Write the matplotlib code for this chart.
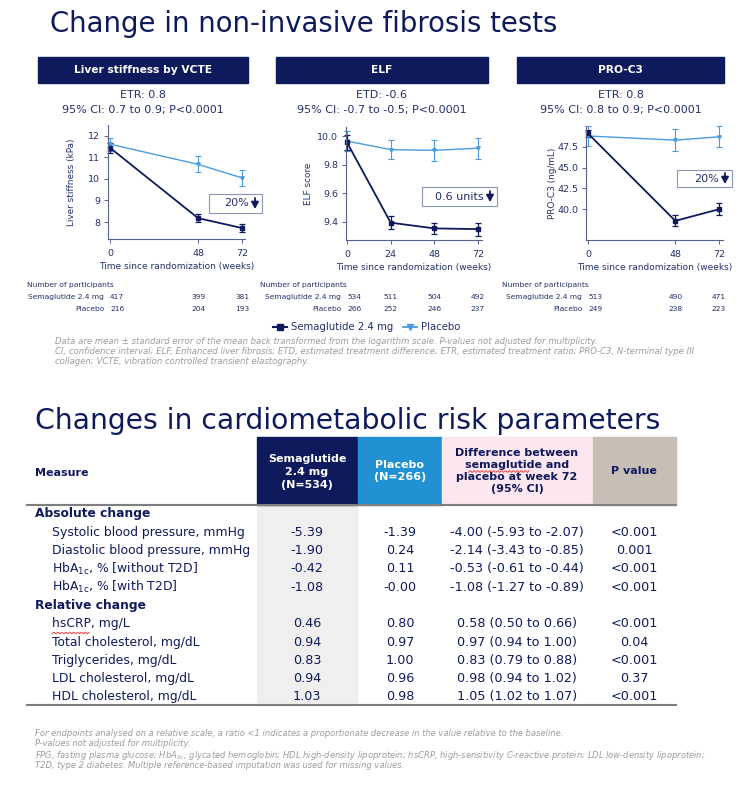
from matplotlib import pyplot as plt
from matplotlib.patches import Rectangle
from matplotlib.transforms import blended_transform_factory
import numpy as np

# ---- data ----
weeks_vcte = [0, 48, 72]
vcte_sema = [11.45, 8.18, 7.72]
vcte_sema_se = [0.23, 0.17, 0.19]
vcte_pbo = [11.62, 10.68, 10.05]
vcte_pbo_se = [0.30, 0.37, 0.36]
n_vcte_sema = [417, 399, 381]
n_vcte_pbo = [216, 204, 193]

weeks_elf = [0, 24, 48, 72]
elf_sema = [9.955, 9.395, 9.355, 9.35]
elf_sema_se = [0.05, 0.045, 0.04, 0.045]
elf_pbo = [9.965, 9.905, 9.90, 9.915]
elf_pbo_se = [0.07, 0.068, 0.075, 0.072]
n_elf_sema = [534, 511, 504, 492]
n_elf_pbo = [266, 252, 246, 237]

weeks_pro = [0, 48, 72]
pro_sema = [49.1, 38.6, 40.0]
pro_sema_se = [0.45, 0.65, 0.7]
pro_pbo = [48.8, 48.3, 48.7]
pro_pbo_se = [1.2, 1.3, 1.25]
n_pro_sema = [513, 490, 471]
n_pro_pbo = [249, 238, 223]

abs_labels = ["Systolic blood pressure, mmHg", "Diastolic blood pressure, mmHg",
              r"HbA$_{\mathregular{1c}}$, % [without T2D]", r"HbA$_{\mathregular{1c}}$, % [with T2D]"]
abs_sema = [-5.39, -1.90, -0.42, -1.08]
abs_pbo = [-1.39, 0.24, 0.11, -0.00]
abs_diff = [(-4.00, -5.93, -2.07), (-2.14, -3.43, -0.85), (-0.53, -0.61, -0.44), (-1.08, -1.27, -0.89)]
abs_p = ["<0.001", "0.001", "<0.001", "<0.001"]

rel_labels = ["hsCRP, mg/L", "Total cholesterol, mg/dL", "Triglycerides, mg/dL",
              "LDL cholesterol, mg/dL", "HDL cholesterol, mg/dL"]
rel_sema = [0.46, 0.94, 0.83, 0.94, 1.03]
rel_pbo = [0.80, 0.97, 1.00, 0.96, 0.98]
rel_diff = [(0.58, 0.50, 0.66), (0.97, 0.94, 1.00), (0.83, 0.79, 0.88), (0.98, 0.94, 1.02), (1.05, 1.02, 1.07)]
rel_p = ["<0.001", "0.04", "<0.001", "0.37", "<0.001"]

W, H = 746, 786
NAVY = "#0f1a5c"
TXT = "#23306a"
BLUE = "#4a9de0"
GREY = "#9c9c9c"

fig = plt.figure(figsize=(W / 100, H / 100), dpi=100)


def px_box(x0, y0, x1, y1):
    # pixel box (top-left origin) -> figure fraction
    return [x0 / W, 1 - y1 / H, (x1 - x0) / W, (y1 - y0) / H]


# overlay axes in pixel coordinates for all the slide furniture
ov = fig.add_axes([0, 0, 1, 1], zorder=10)
ov.set_xlim(0, W)
ov.set_ylim(H, 0)
ov.axis('off')


def squiggle(x0, x1, y):
    xs = np.linspace(x0, x1, int((x1 - x0) * 2))
    ov.plot(xs, y + 0.8 * np.sin(xs * 1.6), color="#e03030", lw=0.6)


ov.text(50, 24, "Change in non-invasive fibrosis tests", fontsize=19.8, color=NAVY, va='center')

panels = [
    dict(title="Liver stiffness by VCTE", s1="ETR: 0.8", s2="95% CI: 0.7 to 0.9; P<0.0001",
         hdr=(38, 248), ax=(108, 125, 245, 239), xlim=(-1.1, 73.6), ylim=(7.21, 12.51),
         weeks=weeks_vcte, sema=vcte_sema, sema_se=vcte_sema_se, pbo=vcte_pbo, pbo_se=vcte_pbo_se,
         yticks=[8, 9, 10, 11, 12], ytl=["8", "9", "10", "11", "12"], ylabel="Liver stiffness (kPa)",
         ylx=-0.23, nsema=n_vcte_sema, npbo=n_vcte_pbo, ntx=27,
         badge=(209, 194, 262, 213, "20%")),
    dict(title="ELF", s1="ETD: -0.6", s2="95% CI: -0.7 to -0.5; P<0.0001",
         hdr=(276, 488), ax=(346, 127, 482, 240), xlim=(-0.55, 74.2), ylim=(9.274, 10.063),
         weeks=weeks_elf, sema=elf_sema, sema_se=elf_sema_se, pbo=elf_pbo, pbo_se=elf_pbo_se,
         yticks=[9.4, 9.6, 9.8, 10.0], ytl=["9.4", "9.6", "9.8", "10.0"], ylabel="ELF score",
         ylx=-0.24, nsema=n_elf_sema, npbo=n_elf_pbo, ntx=260,
         badge=(422, 187, 497, 206, "0.6 units")),
    dict(title="PRO-C3", s1="ETR: 0.8", s2="95% CI: 0.8 to 0.9; P<0.0001",
         hdr=(517, 724), ax=(586, 126, 723, 240), xlim=(-1.1, 74.2), ylim=(36.3, 50.0),
         weeks=weeks_pro, sema=pro_sema, sema_se=pro_sema_se, pbo=pro_pbo, pbo_se=pro_pbo_se,
         yticks=[40, 42.5, 45, 47.5], ytl=["40.0", "42.5", "45.0", "47.5"], ylabel="PRO-C3 (ng/mL)",
         ylx=-0.21, nsema=n_pro_sema, npbo=n_pro_pbo, ntx=502,
         badge=(677, 170, 732, 187, "20%")),
]

NFS = 5.4
for p in panels:
    hx0, hx1 = p["hdr"]
    cx = (hx0 + hx1) / 2
    ov.add_patch(Rectangle((hx0, 57), hx1 - hx0, 26, color=NAVY))
    ov.text(cx, 70, p["title"], color="white", fontsize=7.7, fontweight='bold', ha='center', va='center')
    ov.text(cx, 95, p["s1"], color=TXT, fontsize=8, ha='center', va='center')
    ov.text(cx, 110, p["s2"], color=TXT, fontsize=8, ha='center', va='center')

    x0, y0, x1, y1 = p["ax"]
    ax = fig.add_axes(px_box(x0, y0, x1, y1))
    ax.errorbar(p["weeks"], p["pbo"], yerr=p["pbo_se"], color=BLUE, lw=1, marker='v', ms=2.5,
                capsize=2, elinewidth=0.8, capthick=0.8, clip_on=False)
    ax.errorbar(p["weeks"], p["sema"], yerr=p["sema_se"], color=NAVY, lw=1.3, marker='s', ms=2.5,
                capsize=2, elinewidth=0.9, capthick=0.9, clip_on=False)
    ax.set_xlim(*p["xlim"])
    ax.set_ylim(*p["ylim"])
    ax.set_xticks(p["weeks"])
    ax.set_yticks(p["yticks"])
    ax.set_yticklabels(p["ytl"])
    for s in ["top", "right"]:
        ax.spines[s].set_visible(False)
    for s in ["left", "bottom"]:
        ax.spines[s].set_color("#56628f")
        ax.spines[s].set_linewidth(0.8)
    ax.tick_params(axis='both', length=3, width=0.7, color="#56628f", labelsize=6.8, labelcolor=TXT)
    ax.tick_params(axis='x', pad=4)
    ax.tick_params(axis='y', pad=2.5)
    ax.patch.set_alpha(0)
    ax.set_ylabel(p["ylabel"], fontsize=6.4, color=TXT)
    ax.yaxis.set_label_coords(p["ylx"], 0.5)
    ax.set_xlabel("Time since randomization (weeks)", fontsize=6.5, color=TXT)
    ax.xaxis.set_label_coords(0.5, -0.2)

    # number of participants under each week
    tr = blended_transform_factory(ax.transData, ov.transData)
    w0 = ax.transData.transform((p["weeks"][0], 0))[0]
    ov.text(p["ntx"], 285, "Number of participants", fontsize=NFS, color=TXT, va='center')
    ov.text(w0 - 6, 297, "Semaglutide 2.4 mg", fontsize=NFS, color=TXT, ha='right', va='center')
    ov.text(w0 - 6, 309, "Placebo", fontsize=NFS, color=TXT, ha='right', va='center')
    for w, ns, npb in zip(p["weeks"], p["nsema"], p["npbo"]):
        ov.text(w, 297, str(ns), transform=tr, fontsize=NFS, color=TXT, ha='left' if w == 0 else 'center',
                va='center')
        ov.text(w, 309, str(npb), transform=tr, fontsize=NFS, color=TXT, ha='left' if w == 0 else 'center',
                va='center')

    bx0, by0, bx1, by1, lab = p["badge"]
    ym = (by0 + by1) / 2
    ov.add_patch(Rectangle((bx0, by0), bx1 - bx0, by1 - by0, facecolor="white",
                           edgecolor="#8a93b8", lw=0.8))
    ov.text(bx1 - 13, ym, lab, fontsize=8, color=TXT, ha='right', va='center')
    ov.annotate("", xy=(bx1 - 7, ym + 5.5), xytext=(bx1 - 7, ym - 5.5),
                arrowprops=dict(arrowstyle="-|>,head_width=0.22,head_length=0.4", color=NAVY, lw=1.3,
                                shrinkA=0, shrinkB=0))

# legend
ov.plot([273, 287], [327, 327], color=NAVY, lw=1.5)
ov.plot([280], [327], 's', color=NAVY, ms=4.5)
ov.text(291, 327, "Semaglutide 2.4 mg", fontsize=7.3, color=TXT, va='center')
ov.plot([403, 417], [327, 327], color=BLUE, lw=1.3)
ov.plot([410], [327], 'v', color=BLUE, ms=4.5)
ov.text(421, 327, "Placebo", fontsize=7.3, color=TXT, va='center')

foot1 = ["Data are mean \u00b1 standard error of the mean back transformed from the logarithm scale. P-values not adjusted for multiplicity.",
         "CI, confidence interval; ELF, Enhanced liver fibrosis; ETD, estimated treatment difference; ETR, estimated treatment ratio; PRO-C3, N-terminal type III",
         "collagen; VCTE, vibration controlled transient elastography."]
for i, t in enumerate(foot1):
    ov.text(55, 342 + 10 * i, t, fontsize=6.15, color=GREY, style='italic', va='center')

# ---- table ----
ov.text(35, 421, "Changes in cardiometabolic risk parameters", fontsize=20.3, color=NAVY, va='center')

ov.add_patch(Rectangle((257, 437), 100, 68, color=NAVY))
ov.add_patch(Rectangle((358, 437), 84, 68, color="#2191d4"))
ov.add_patch(Rectangle((442, 437), 151, 68, color="#fce6ef"))
ov.add_patch(Rectangle((593, 437), 83, 68, color="#c7beb6"))
ov.add_patch(Rectangle((257, 505), 100, 200, color="#efefef", zorder=0))
ov.plot([27, 676], [505, 505], color="#7f7f7f", lw=1.5)
ov.plot([27, 676], [705, 705], color="#7f7f7f", lw=1.5)

ov.text(35, 473, "Measure", fontsize=8, fontweight='bold', color=NAVY, va='center')
ov.text(307, 472, "Semaglutide\n2.4 mg\n(N=534)", fontsize=8, fontweight='bold', color="white",
        ha='center', va='center', linespacing=1.35)
ov.text(400, 471, "Placebo\n(N=266)", fontsize=8, fontweight='bold', color="white",
        ha='center', va='center', linespacing=1.3)
ov.text(517, 471, "Difference between\nsemaglutide and\nplacebo at week 72\n(95% CI)", fontsize=8,
        fontweight='bold', color=NAVY, ha='center', va='center', linespacing=1.25)
ov.text(634, 471, "P value", fontsize=8, fontweight='bold', color=NAVY, ha='center', va='center')
squiggle(468, 529, 471.5)

y = 514
step = 18.3
BODY = 9.2
sections = [("Absolute change", abs_labels, abs_sema, abs_pbo, abs_diff, abs_p),
            ("Relative change", rel_labels, rel_sema, rel_pbo, rel_diff, rel_p)]
for name, labels, sema, pbo, diff, pv in sections:
    ov.text(35, y, name, fontsize=8.8, fontweight='bold', color=NAVY, va='center')
    y += step
    for lab, s, pb, d, pp in zip(labels, sema, pbo, diff, pv):
        ov.text(52, y, lab, fontsize=8.95, color=NAVY, va='center')
        ov.text(307, y, f"{s:.2f}", fontsize=BODY, color=NAVY, ha='center', va='center')
        ov.text(400, y, f"{pb:.2f}", fontsize=BODY, color=NAVY, ha='center', va='center')
        ov.text(517, y, f"{d[0]:.2f} ({d[1]:.2f} to {d[2]:.2f})", fontsize=BODY, color=NAVY,
                ha='center', va='center')
        ov.text(634, y, pp, fontsize=BODY, color=NAVY, ha='center', va='center')
        y += step
squiggle(52, 89, 633)

foot2 = [(733, "For endpoints analysed on a relative scale, a ratio <1 indicates a proportionate decrease in the value relative to the baseline."),
         (743, "P-values not adjusted for multiplicity."),
         (756, r"FPG, fasting plasma glucose; HbA$_{\mathregular{1c}}$, glycated hemoglobin; HDL high-density lipoprotein; hsCRP, high-sensitivity C-reactive protein; LDL low-density lipoprotein;"),
         (766, "T2D, type 2 diabetes. Multiple reference-based imputation was used for missing values.")]
for yy, t in foot2:
    ov.text(35, yy, t, fontsize=6.0, color=GREY, style='italic', va='center')

plt.savefig("out.png", dpi=100)
